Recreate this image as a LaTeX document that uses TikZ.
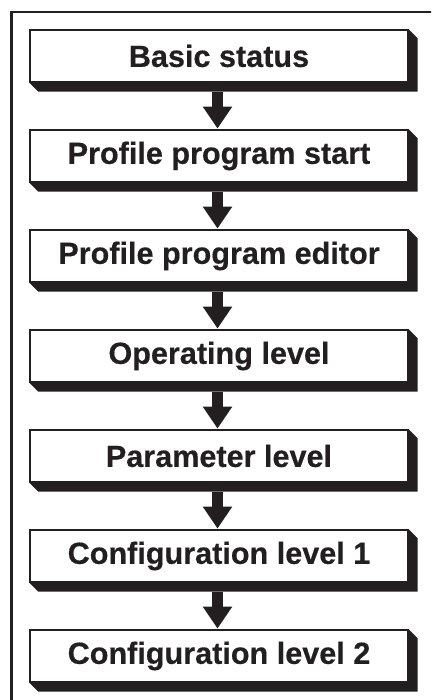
\documentclass[tikz,border=0pt]{standalone}
\usepackage{fontspec}
\newfontfamily\boxfont[FakeBold=0.4]{Liberation Sans}
\usetikzlibrary{arrows.meta,calc}
\definecolor{ink}{HTML}{231F20}
\tikzset{
  stage/.style={draw=ink, line width=1.4pt, fill=white, rectangle,
    minimum width=378pt, minimum height=52pt, inner sep=0pt,
    text=ink, font=\boxfont\bfseries\fontsize{30.6}{34}\selectfont},
  flowarrow/.style={draw=ink, line width=11pt, line join=miter,
    -{Triangle[width=28pt,length=22pt]}},
  drop/.style={fill=ink, draw=none}
}
\newcommand{\shadowbox}[1]{%
  \fill[drop] (#1.south west) -- ++(9pt,-9pt) -- ($(#1.south east)+(9pt,-9pt)$)
    -- ($(#1.north east)+(9pt,-9pt)$) -- (#1.north east) -- cycle;}
\begin{document}
\begin{tikzpicture}[x=1pt,y=1pt]
\useasboundingbox (0,0) rectangle (431,700);
% outer frame, running past the right and bottom edges
\begin{scope}
  \clip (0,0) rectangle (431,700);
  \draw[ink, line width=2.5pt] (11.5,-20) -- (11.5,688) -- (460,688);
\end{scope}
% the seven stages
\foreach \n/\t [count=\k from 0] in {b1/Basic status, b2/Profile program start,
    b3/Profile program editor, b4/Operating level, b5/Parameter level,
    b6/Configuration level 1, b7/Configuration level 2}{
  \node[stage] (\n) at (219,{644-100*\k}) {\phantom{X}};
}
\foreach \n in {b1,b2,b3,b4,b5,b6,b7}{\shadowbox{\n}}
\node[stage] at (b1) {Basic status};
\node[stage] at (b2) {Profile program start};
\node[stage] at (b3) {Profile program editor};
\node[stage] at (b4) {Operating level};
\node[stage] at (b5) {Parameter level};
\node[stage] at (b6) {Configuration level 1};
\node[stage] at (b7) {Configuration level 2};
% connectors
\foreach \a/\b in {b1/b2,b2/b3,b3/b4,b4/b5,b5/b6,b6/b7}{
  \draw[flowarrow] ($(\a.south)+(-1.5pt,-9pt)$) -- ($(\b.north)+(-1.5pt,0.7pt)$);
}
\end{tikzpicture}
\end{document}
